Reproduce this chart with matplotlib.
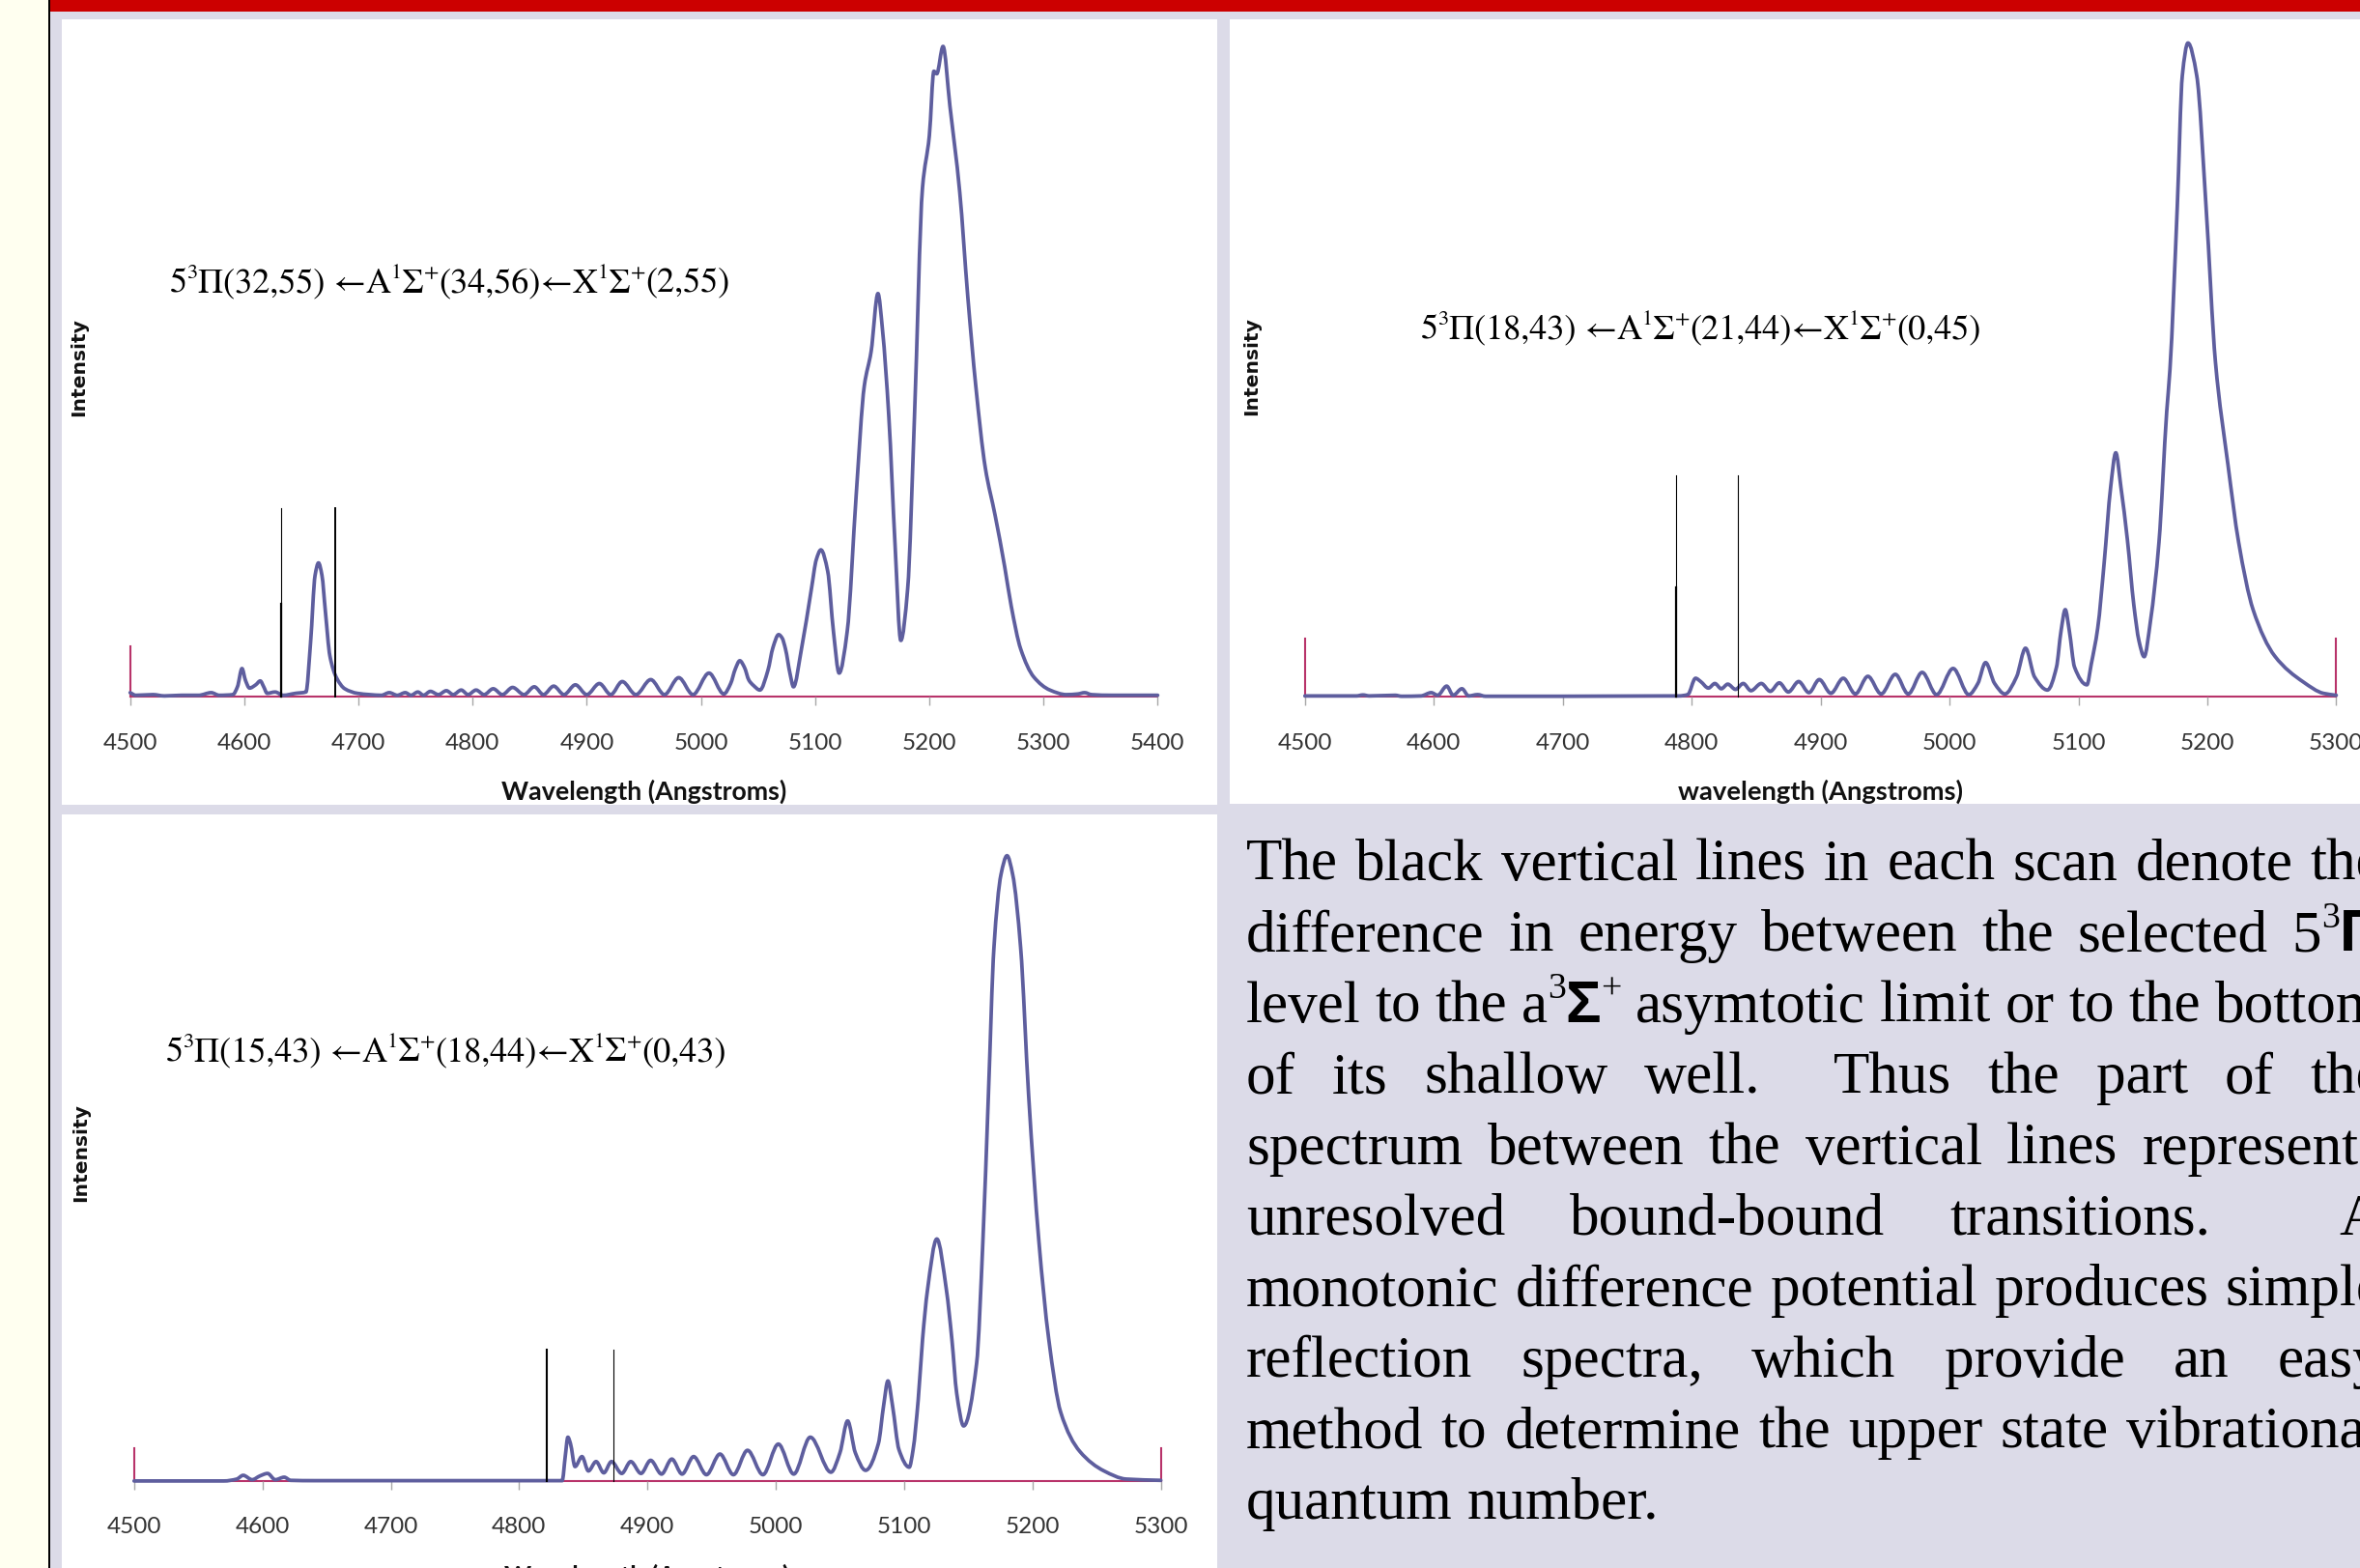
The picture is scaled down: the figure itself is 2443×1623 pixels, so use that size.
import re
import matplotlib
matplotlib.use("Agg")
import matplotlib.pyplot as plt
from matplotlib.patches import Rectangle, PathPatch
from matplotlib.path import Path

# ------------------------------------------------------------------ data
ticks_p1 = [4500, 4600, 4700, 4800, 4900, 5000, 5100, 5200, 5300, 5400]
ticks_p23 = [4500, 4600, 4700, 4800, 4900, 5000, 5100, 5200, 5300]

# (wavelength [A], relative intensity)
spec_1 = [(4500, 0.6), (4505, 0.2), (4520, 0.3), (4530, 0.1), (4545, 0.2), (4560, 0.2),
          (4571, 0.6), (4578, 0.2), (4590, 0.3), (4594, 1.5), (4598, 4.3), (4601, 2.5),
          (4604.6, 1.3), (4610, 1.8), (4614, 2.4), (4617, 1.5), (4620, 0.5), (4627, 0.7),
          (4634, 0.2), (4645, 0.5), (4654, 0.7), (4658, 8.2), (4662, 18.6), (4665, 20.5),
          (4668, 18.6), (4671, 13.1), (4675, 6.2), (4681, 2.8), (4688, 1.2), (4699, 0.5),
          (4710, 0.3), (4720, 0.2), (4727, 0.6), (4734, 0.2), (4741, 0.6), (4746, 0.2),
          (4752, 0.7), (4757, 0.2), (4763, 0.8), (4770, 0.3), (4777, 0.9), (4783, 0.3),
          (4790, 1.0), (4796, 0.3), (4803, 1.0), (4810, 0.3), (4818, 1.2), (4826, 0.3),
          (4835, 1.4), (4845, 0.3), (4854, 1.5), (4862, 0.3), (4871, 1.6), (4880, 0.3),
          (4890, 1.8), (4900, 0.3), (4911, 2.0), (4921, 0.3), (4931, 2.3), (4943, 0.3),
          (4956, 2.6), (4968, 0.3), (4980.5, 2.9), (4993, 0.3), (5007, 3.6), (5020, 0.4),
          (5026, 2.0), (5030, 4.2), (5034, 5.5), (5038, 4.5), (5042, 2.5), (5046, 1.7),
          (5051.6, 1.0), (5058.6, 4.0), (5063, 7.5), (5068, 9.5), (5071, 9.0), (5074, 7.3),
          (5078, 3.5), (5081, 1.5), (5088, 7.3), (5096.7, 16.5), (5101, 21.0), (5105, 22.5),
          (5111, 19.2), (5116, 10.0), (5121, 3.6), (5128, 9.9), (5136, 31.1), (5143, 47.6),
          (5149, 52.9), (5155, 61.8), (5159, 56.2), (5164.5, 43.0), (5170, 23.2), (5175, 8.6),
          (5181, 16.5), (5187, 43.0), (5194, 78.0), (5200, 86.0), (5204, 95.9), (5206.5, 95.5),
          (5212, 99.7), (5218, 90.6), (5226.6, 77.4), (5233.6, 61.5), (5240.7, 47.6),
          (5249, 35.1), (5257.6, 27.8), (5266, 19.9), (5271.7, 13.9), (5280, 7.3),
          (5291.5, 3.0), (5305.6, 1.0), (5320, 0.3), (5330, 0.4), (5336, 0.6), (5342, 0.3),
          (5360, 0.2), (5400, 0.2)]

spec_2 = [(4500, 0.1), (4540, 0.1), (4545, 0.25), (4550, 0.1), (4570, 0.2), (4575, 0.05),
          (4590, 0.1), (4598, 0.6), (4603, 0.2), (4610, 1.6), (4615, 0.2), (4621.8, 1.2),
          (4627, 0.1), (4634, 0.3), (4640, 0.05), (4700, 0.05), (4780, 0.1), (4790, 0.1),
          (4797, 0.3), (4803, 2.8), (4807, 2.3), (4813, 1.3), (4818, 2.0), (4823, 1.2),
          (4828, 1.9), (4834, 1.1), (4840, 2.0), (4846, 0.9), (4854, 2.0), (4861, 0.8),
          (4868, 2.1), (4875, 0.7), (4883, 2.3), (4891, 0.6), (4899, 2.6), (4908, 0.5),
          (4917.6, 2.8), (4927, 0.4), (4936.7, 3.1), (4947, 0.4), (4958, 3.4), (4968, 0.4),
          (4978.8, 3.7), (4990, 0.3), (5002.8, 4.3), (5015, 0.3), (5022, 2.0), (5028, 5.2),
          (5035, 2.0), (5043, 0.4), (5052, 3.0), (5059, 7.4), (5066, 3.0), (5076, 1.0),
          (5083, 4.5), (5086.5, 10.0), (5089.8, 13.3), (5093, 10.0), (5097, 4.5),
          (5106.6, 1.8), (5110, 5.0), (5115, 10.5), (5120, 20.5), (5125, 32.0), (5129, 37.3),
          (5133, 32.0), (5138, 24.0), (5143, 14.0), (5147, 8.5), (5151, 6.1), (5156, 11.7),
          (5162.5, 23.6), (5168.5, 43.6), (5171, 50.0), (5176.7, 75.0), (5180.6, 95.0),
          (5185, 100.0), (5191.8, 95.0), (5199, 75.0), (5206.3, 51.2), (5216, 35.5),
          (5224.3, 23.6), (5235.5, 13.3), (5252.3, 6.2), (5274.7, 2.2), (5290, 0.5),
          (5300, 0.2)]

spec_3 = [(4500, 0.0), (4570, 0.0), (4580, 0.3), (4585, 0.9), (4592, 0.2), (4598, 0.8),
          (4604, 1.2), (4610, 0.2), (4617, 0.6), (4622, 0.1), (4640, 0.05), (4833.6, 0.05),
          (4836, 4.0), (4838, 7.0), (4840, 6.0), (4843.6, 2.3), (4849, 3.9), (4854, 1.6),
          (4860, 3.1), (4866, 1.3), (4872, 3.1), (4880, 1.2), (4887, 3.1), (4895, 1.2),
          (4902.5, 3.3), (4911, 1.1), (4919, 3.5), (4927, 1.1), (4936, 3.9), (4946, 1.0),
          (4956.5, 4.3), (4967, 1.0), (4978, 4.9), (4990, 1.0), (5002, 5.9), (5014, 1.1),
          (5026.9, 7.0), (5043, 1.4), (5050, 4.5), (5056, 9.6), (5062, 4.5), (5070, 1.7),
          (5080, 6.0), (5084, 12.0), (5087.4, 16.0), (5091, 12.0), (5096, 5.0), (5104, 2.2),
          (5107, 5.0), (5111, 13.0), (5114.4, 22.7), (5118.2, 30.5), (5125.5, 38.7),
          (5133, 30.5), (5137.2, 22.7), (5141, 14.0), (5146.4, 8.8), (5156.5, 18.8),
          (5161.4, 38.4), (5165.7, 61.8), (5170, 85.3), (5175.5, 97.0), (5180.2, 100.0),
          (5184.6, 97.0), (5190.8, 85.3), (5197, 61.8), (5205, 38.4), (5212.7, 22.7),
          (5222, 11.0), (5237, 4.7), (5255.8, 1.6), (5273, 0.3), (5300, 0.1)]

# black vertical lines: (wavelength, top intensity, linewidth in pt)
cuts_1 = [(4632, 28.9, 0.8), (4632, 14.2, 1.6), (4679.3, 28.9, 1.4)]
cuts_2 = [(4787.6, 33.8, 0.8), (4787.6, 16.7, 1.6), (4836, 33.8, 0.8)]
cuts_3 = [(4821.3, 21.0, 1.5), (4873.3, 21.0, 0.8)]

# short red axis end markers (wavelength, height)
ends_1 = [(4500, 7.7)]
ends_2 = [(4500, 8.8), (5300, 8.9)]
ends_3 = [(4500, 5.3), (5300, 5.3)]

formula_1 = "5^{3}Π(32,55) ←A^{1}Σ^{+}(34,56)←X^{1}Σ^{+}(2,55)"
formula_2 = "5^{3}Π(18,43) ←A^{1}Σ^{+}(21,44)←X^{1}Σ^{+}(0,45)"
formula_3 = "5^{3}Π(15,43) ←A^{1}Σ^{+}(18,44)←X^{1}Σ^{+}(0,43)"

xlabel_1 = "Wavelength (Angstroms)"
xlabel_2 = "wavelength (Angstroms)"
xlabel_3 = "Wavelength (Angstroms)"
ylabel = "Intensity"

paragraph = [
    "The black vertical lines in each scan denote the",
    "difference in energy between the selected 5^{3}Π",
    "level to the a^{3}Σ^{+} asymtotic limit or to the bottom",
    "of its shallow well.  Thus the part of the",
    "spectrum between the vertical lines represents",
    "unresolved bound-bound transitions.  A",
    "monotonic difference potential produces simple",
    "reflection spectra, which provide an easy",
    "method to determine the upper state vibrational",
    "quantum number.",
]

# ------------------------------------------------------------------ style
W, H, DPI = 2443, 1624, 100
BG = "#DCDBE8"
LINE = "#5E5E9E"
AXRED = "#B8336A"
TICKGREY = "#A8A8A8"
SERIF = ["Liberation Serif", "DejaVu Serif"]
FORMULA_FONT = ["STIXGeneral", "Liberation Serif", "DejaVu Serif"]

fig = plt.figure(figsize=(W / DPI, H / DPI), dpi=DPI)
fig.patch.set_facecolor(BG)
renderer = fig.canvas.get_renderer()


def rect(x0, y0, x1, y1, color):
    fig.add_artist(Rectangle((x0 / W, 1 - y1 / H), (x1 - x0) / W, (y1 - y0) / H,
                             transform=fig.transFigure, facecolor=color,
                             edgecolor="none", zorder=0))


rect(0, 0, 50, H, "#FFFFF0")
rect(50, 0, 52, H, "black")
rect(52, 0, W, 12.5, "#CC0000")
rect(64, 21, 1260, 834, "white")
rect(1273, 21, W + 5, 833, "white")
rect(64, 844, 1260, H + 5, "white")


def text_width(s, size, props):
    t1 = fig.text(0, 0, "|" + s + "|", fontsize=size, **props)
    t2 = fig.text(0, 0, "||", fontsize=size, **props)
    w = (t1.get_window_extent(renderer=renderer).width
         - t2.get_window_extent(renderer=renderer).width)
    t1.remove(); t2.remove()
    return w


SUP = re.compile(r"\^\{([^}]*)\}")


def parse(markup, size, base, greek):
    runs = []

    def plain(s):
        buf = ""
        for ch in s:
            if greek is not None and ch in "ΠΣ":
                if buf:
                    runs.append((buf, size, 0.0, base))
                    buf = ""
                runs.append((ch, size, 0.0, greek))
            else:
                buf += ch
        if buf:
            runs.append((buf, size, 0.0, base))

    pos = 0
    for m in SUP.finditer(markup):
        if m.start() > pos:
            plain(markup[pos:m.start()])
        runs.append((m.group(1), size * 0.62, size * 0.40, base))
        pos = m.end()
    if pos < len(markup):
        plain(markup[pos:])
    return runs


def runs_width(runs):
    return sum(text_width(s, sz, p) for s, sz, r, p in runs)


def draw_runs(runs, x, yb, color="black"):
    for s, sz, rise, p in runs:
        rise_px = rise * DPI / 72.0
        fig.text(x / W, 1 - (yb - rise_px) / H, s, fontsize=sz, ha="left",
                 va="baseline", color=color, **p)
        x += text_width(s, sz, p)
    return x


def smooth_path(xs, ys):
    """Cubic Bezier path through the read points (shape-preserving slopes)."""
    n = len(xs)
    h = [xs[i + 1] - xs[i] for i in range(n - 1)]
    d = [(ys[i + 1] - ys[i]) / h[i] for i in range(n - 1)]
    m = [0.0] * n
    m[0], m[-1] = d[0], d[-1]
    for i in range(1, n - 1):
        if d[i - 1] * d[i] <= 0:
            m[i] = 0.0
        else:
            w1 = 2 * h[i] + h[i - 1]
            w2 = h[i] + 2 * h[i - 1]
            m[i] = (w1 + w2) / (w1 / d[i - 1] + w2 / d[i])
    verts = [(xs[0], ys[0])]
    codes = [Path.MOVETO]
    for i in range(n - 1):
        verts += [(xs[i] + h[i] / 3, ys[i] + m[i] * h[i] / 3),
                  (xs[i + 1] - h[i] / 3, ys[i + 1] - m[i + 1] * h[i] / 3),
                  (xs[i + 1], ys[i + 1])]
        codes += [Path.CURVE4] * 3
    return Path(verts, codes)


def make_panel(spec, ticks, x0, x1, ybase, ytop, cuts, ends, formula, fpos,
               xlabel, xlab_pos, ylab_pos, tick_pad):
    ax = fig.add_axes([x0 / W, 1 - ybase / H, (x1 - x0) / W, (ybase - ytop) / H])
    ax.set_xlim(ticks[0], ticks[-1])
    ax.set_ylim(0, 100)
    ax.patch.set_alpha(0)
    for s in ("top", "right", "left"):
        ax.spines[s].set_visible(False)
    ax.spines["bottom"].set_color(AXRED)
    ax.spines["bottom"].set_linewidth(1.5)
    ax.spines["bottom"].set_zorder(1)
    ax.set_yticks([])
    ax.set_xticks(ticks)
    ax.set_xticklabels([str(t) for t in ticks], fontfamily="Lato", fontsize=17.5,
                       color="#333333")
    ax.tick_params(axis="x", length=6.5, width=1.0, color=TICKGREY, pad=tick_pad)
    for xe, he in ends:
        ax.plot([xe, xe], [0, he], color=AXRED, lw=1.5, clip_on=False, zorder=2)
    wl, inten = zip(*spec)
    ax.add_patch(PathPatch(smooth_path(list(wl), list(inten)), facecolor="none",
                           edgecolor=LINE, lw=2.7, clip_on=False, zorder=3,
                           joinstyle="round", capstyle="round"))
    for xc, top, lw in cuts:
        ax.plot([xc, xc], [0, top], color="black", lw=lw, clip_on=False, zorder=4)
    # formula annotation
    runs = parse(formula, 26, {"family": FORMULA_FONT}, None)
    draw_runs(runs, fpos[0], fpos[1])
    # x label (fit width)
    props = {"family": "Lato", "weight": "bold"}
    w10 = text_width(xlabel, 10, props)
    sz = 10 * 295.5 / w10
    fig.text(xlab_pos[0] / W, 1 - xlab_pos[1] / H, xlabel, fontsize=sz, ha="center",
             va="baseline", color="#111111", **props)
    # y label
    yprops = {"family": "DejaVu Sans", "weight": "bold"}
    w10 = text_width(ylabel, 10, yprops)
    sz = 10 * 101.5 / w10
    fig.text(ylab_pos[0] / W, 1 - ylab_pos[1] / H, ylabel, fontsize=sz, rotation=90,
             ha="center", va="center", color="#111111", **yprops)
    return ax


make_panel(spec_1, ticks_p1, 134.7, 1198.4, 722, 47, cuts_1, ends_1, formula_1,
           (175.5, 302.7), xlabel_1, (666.5, 827.7), (81.6, 380), 20.5)
make_panel(spec_2, ticks_p23, 1350.8, 2418.4, 722, 45.5, cuts_2, ends_2, formula_2,
           (1470.5, 350.9), xlabel_2, (1884.6, 827.5), (1296, 379), 20.5)
make_panel(spec_3, ticks_p23, 138.8, 1201.6, 1533.9, 886.7, cuts_3, ends_3, formula_3,
           (171.4, 1098.4), xlabel_3, (670, 1639.6), (84, 1193), 19.7)

# ------------------------------------------------------------------ paragraph
PX0, PX1 = 1290, 2466
base = {"family": SERIF}
greek = {"family": ["Liberation Sans", "DejaVu Sans"], "weight": "bold"}
SIZE = 44
space_w = text_width("a a", SIZE, base) - text_width("aa", SIZE, base)
for k, line in enumerate(paragraph):
    yb = 911 + 73.4 * k
    tokens = line.split(" ")
    words, gaps, g = [], [], 0
    for tok in tokens:
        if tok == "":
            g += 1
            continue
        if words:
            gaps.append(g)
        words.append(parse(tok, SIZE, base, greek))
        g = 1
    widths = [runs_width(w) for w in words]
    last = k == len(paragraph) - 1
    if last or not gaps:
        unit = space_w
    else:
        unit = (PX1 - PX0 - sum(widths)) / sum(gaps)
    x = PX0
    for i, w in enumerate(words):
        draw_runs(w, x, yb)
        x += widths[i]
        if i < len(gaps):
            x += unit * gaps[i]

fig.savefig("out.png", dpi=DPI, facecolor=fig.get_facecolor())
